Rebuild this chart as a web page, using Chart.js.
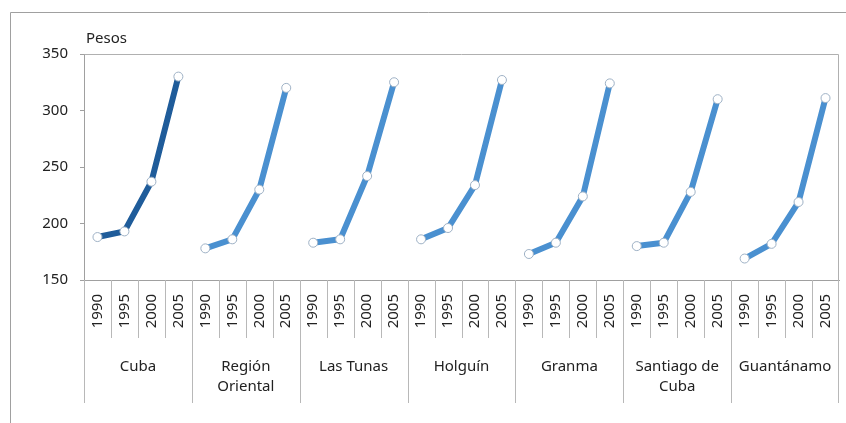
<!DOCTYPE html>
<html>
<head>
<meta charset="utf-8">
<script src="https://cdn.jsdelivr.net/npm/chart.js@4"></script>
<style>
html,body{margin:0;padding:0;background:#fff;}
#wrap{width:846px;height:423px;position:relative;}
</style>
</head>
<body>
<div id="wrap"><canvas id="c" width="846" height="423"></canvas></div>
<script>
const years = ['1990', '1995', '2000', '2005'];
const regions = [['Cuba'], ['Región', 'Oriental'], ['Las Tunas'], ['Holguín'], ['Granma'], ['Santiago de', 'Cuba'], ['Guantánamo']];
const cuba = [188, 193, 237, 330];
const regionOriental = [178, 186, 230, 320];
const lasTunas = [183, 186, 242, 325];
const holguin = [186, 196, 234, 327];
const granma = [173, 183, 224, 324];
const santiago = [180, 183, 228, 310];
const guantanamo = [169, 182, 219, 311];
const yTicks = [150, 200, 250, 300, 350];
const yTitle = 'Pesos';

const seriesList = [cuba, regionOriental, lasTunas, holguin, granma, santiago, guantanamo];
const labels = [];
regions.forEach(() => years.forEach(y => labels.push(y)));
const datasets = seriesList.map((vals, g) => {
  const data = labels.map(() => null);
  vals.forEach((v, i) => { data[g * years.length + i] = v; });
  return {
    data,
    borderColor: g === 0 ? '#1f5c9a' : '#4a90d0',
    borderWidth: 6,
    pointRadius: 4.5,
    pointBackgroundColor: '#ffffff',
    pointBorderColor: '#9fb2c6',
    pointBorderWidth: 1,
    spanGaps: false,
    tension: 0
  };
});

const FONT = '"Noto Sans", "Open Sans", sans-serif';
const decor = {
  id: 'decor',
  beforeDraw(chart) {
    const ctx = chart.ctx;
    ctx.save();
    ctx.fillStyle = '#fff';
    ctx.fillRect(0, 0, chart.width, chart.height);
    ctx.strokeStyle = '#a0a0a0';
    ctx.lineWidth = 1;
    ctx.beginPath();
    ctx.moveTo(10.5, chart.height);
    ctx.lineTo(10.5, 12.5);
    ctx.lineTo(chart.width, 12.5);
    ctx.stroke();
    ctx.restore();
  },
  afterDraw(chart) {
    const ctx = chart.ctx;
    const a = chart.chartArea;
    const xs = chart.scales.x;
    ctx.save();
    ctx.strokeStyle = '#b0b0b0';
    ctx.lineWidth = 1;
    ctx.beginPath();
    ctx.moveTo(Math.round(a.left) + 0.5, Math.round(a.top) + 0.5);
    ctx.lineTo(Math.round(a.right) - 0.5, Math.round(a.top) + 0.5);
    ctx.lineTo(Math.round(a.right) - 0.5, Math.round(a.bottom));
    ctx.stroke();
    const n = labels.length;
    const step = (xs.getPixelForValue(1) - xs.getPixelForValue(0));
    for (let i = 0; i <= n; i++) {
      let x = Math.round(xs.getPixelForValue(i) - step / 2) + 0.5;
      if (i === n) x = Math.round(a.right) - 0.5;
      const isGroup = i % years.length === 0;
      ctx.strokeStyle = '#b8b8b8';
      ctx.beginPath();
      ctx.moveTo(x, a.bottom);
      ctx.lineTo(x, isGroup ? a.bottom + 123 : a.bottom + 58);
      ctx.stroke();
    }
    ctx.fillStyle = '#222';
    ctx.font = '15px ' + FONT;
    ctx.textAlign = 'center';
    ctx.textBaseline = 'alphabetic';
    regions.forEach((lines, g) => {
      const x0 = xs.getPixelForValue(g * years.length) - step / 2;
      const x1 = xs.getPixelForValue(g * years.length + years.length - 1) + step / 2;
      const cx = (x0 + x1) / 2;
      lines.forEach((t, k) => ctx.fillText(t, cx, a.bottom + 91 + k * 20));
    });
    ctx.textAlign = 'left';
    ctx.fillText(yTitle, 86, 43);
    ctx.restore();
  }
};

new Chart(document.getElementById('c'), {
  type: 'line',
  data: { labels, datasets },
  plugins: [decor],
  options: {
    responsive: false,
    animation: false,
    layout: { padding: { left: 0, right: 7, top: 54, bottom: 0 } },
    plugins: { legend: { display: false }, tooltip: { enabled: false } },
    scales: {
      x: {
        offset: true,
        grid: { display: false, drawTicks: false },
        border: { display: true, color: '#a0a0a0' },
        ticks: {
          autoSkip: false,
          minRotation: 90,
          maxRotation: 90,
          padding: 14,
          color: '#222',
          font: { size: 15, family: FONT }
        },
        afterFit(s) { s.height = 143; s.paddingLeft = 0; s.paddingRight = 0; }
      },
      y: {
        min: 150,
        max: 350,
        afterBuildTicks(s) { s.ticks = yTicks.map(v => ({ value: v })); },
        grid: { drawOnChartArea: false, tickLength: 4, color: '#a0a0a0' },
        border: { display: true, color: '#a0a0a0' },
        ticks: {
          padding: 12,
          color: '#222',
          font: { size: 15, family: FONT }
        },
        afterFit(s) { s.width = 84; s.paddingTop = 0; s.paddingBottom = 0; }
      }
    }
  }
});
</script>
</body>
</html>
